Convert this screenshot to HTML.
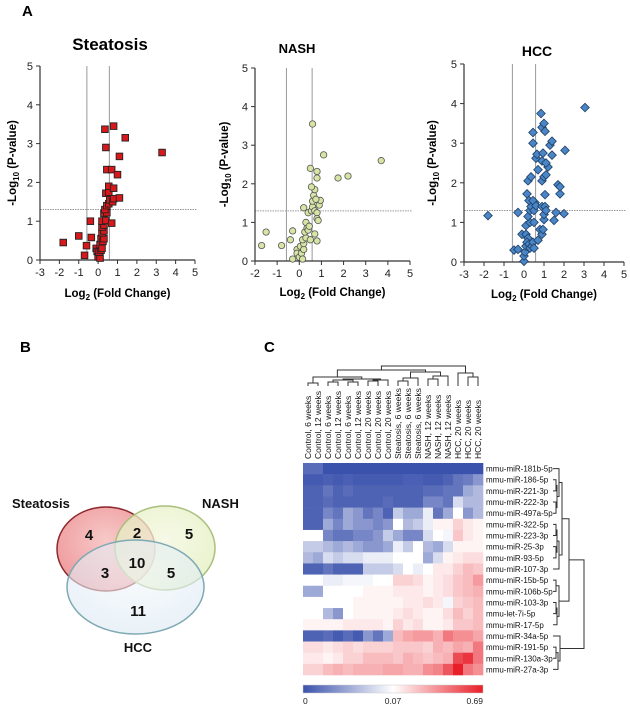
<!DOCTYPE html>
<html><head><meta charset="utf-8"><style>
html,body{margin:0;padding:0;background:#fff;}
svg{display:block;font-family:"Liberation Sans",Arial,sans-serif;}
</style></head><body>
<svg id="fig" width="630" height="711" viewBox="0 0 630 711">
<text x="22" y="16" font-size="15" font-weight="bold">A</text>
<text x="20" y="352" font-size="15" font-weight="bold">B</text>
<text x="264" y="352" font-size="15" font-weight="bold">C</text>
<g id="volcanoes"></g>
<g id="venn">
<defs>
<radialGradient id="gS" cx="50%" cy="40%" r="60%"><stop offset="0" stop-color="#f7c9c9"/><stop offset="1" stop-color="#ef9a9c"/></radialGradient>
<radialGradient id="gN" cx="50%" cy="40%" r="60%"><stop offset="0" stop-color="#f3f7de"/><stop offset="1" stop-color="#e2eebd"/></radialGradient>
<radialGradient id="gH" cx="50%" cy="40%" r="60%"><stop offset="0" stop-color="#f2f7fb"/><stop offset="1" stop-color="#dbe9f3"/></radialGradient>
</defs>
<ellipse cx="106" cy="549" rx="49" ry="42" fill="url(#gS)" stroke="#8e2a2e" stroke-width="1.5"/>
<ellipse cx="165" cy="548" rx="50" ry="42" fill="url(#gN)" fill-opacity="0.75" stroke="#a9bf7d" stroke-width="1.5"/>
<ellipse cx="135.5" cy="587" rx="68.5" ry="47" fill="url(#gH)" fill-opacity="0.6" stroke="#7fa9b3" stroke-width="1.5"/>
<g font-size="15" font-weight="bold" text-anchor="middle" fill="#111">
<text x="89" y="540">4</text>
<text x="137" y="538">2</text>
<text x="189" y="539">5</text>
<text x="105" y="578">3</text>
<text x="137" y="568">10</text>
<text x="171" y="578">5</text>
<text x="138" y="616">11</text>
</g>
<g font-size="13" font-weight="bold" fill="#111">
<text x="12" y="508">Steatosis</text>
<text x="202" y="508">NASH</text>
<text x="138" y="652" text-anchor="middle">HCC</text>
</g>
</g>
<g id="heat"></g>
</svg>
<script>
const NS="http://www.w3.org/2000/svg";
function mk(tag,attrs,parent){const e=document.createElementNS(NS,tag);for(const k in attrs)e.setAttribute(k,attrs[k]);parent.appendChild(e);return e;}

// ---------- Volcano data ----------
const steatosisFC=[-1.8,-1,-0.7,-0.6,-0.35,-0.4,-0.1,-0.05,0,0.1,0.05,0.15,0.1,0.2,0.15,0.25,0.3,0.2,0.3,0.2,0.3,0.2,0.4,0.3,0.45,0.35,0.45,0.55,0.6,0.75,0.8,1.1,0.4,0.55,0.55,0.8,0.7,0.45,0.7,1.0,0.4,0.35,0.8,1.4,1.1,3.3];
const steatosisP=[0.45,0.62,0.12,0.37,0.58,1.0,0.3,0.22,0.08,0.05,0.2,0.25,0.4,0.3,0.55,0.48,0.55,0.7,0.75,0.85,0.9,1.0,1.02,1.2,1.22,1.3,1.4,1.45,1.55,1.5,1.58,1.6,1.72,1.75,1.9,1.85,0.95,2.33,2.33,2.2,2.9,3.37,3.45,3.15,2.67,2.77];
const nashFC=[-1.7,-1.5,-0.8,-0.4,-0.3,-0.3,-0.1,-0.1,0,0.05,0.1,0.15,0.2,0.2,0.15,0.3,0.25,0.35,0.4,0.3,0.45,0.5,0.7,0.8,0.2,0.4,0.55,0.6,0.7,0.8,0.8,0.85,0.9,0.95,0.6,0.65,0.7,0.55,0.75,0.8,0.8,0.5,1.1,1.75,2.2,3.7,0.6];
const nashP=[0.4,0.75,0.4,0.55,0.78,0.05,0.3,0.2,0.1,0.38,0.2,0.05,0.3,0.45,0.55,0.6,0.75,0.85,0.8,1.0,0.9,0.55,0.7,0.52,1.38,1.25,1.3,1.4,1.3,1.25,1.1,1.05,1.45,1.57,1.55,1.7,1.85,1.92,1.6,2.15,2.32,2.4,2.75,2.15,2.2,2.6,3.55];
const hccFC=[-1.8,-0.3,-0.5,-0.3,0,0,0.05,0.1,-0.1,0.1,0.2,0.15,0.25,0.3,0.4,0.45,0.5,0.1,0.3,0.5,0.7,0.8,0.9,0.95,1.0,0.2,0.3,0.35,0.5,0.55,0.15,0.25,0.45,0.6,0.9,1.05,1.0,1.1,1.6,1.5,2.0,1.05,1.8,1.7,1.8,0.2,0.35,0.9,1.0,1.1,0.7,1.2,0.9,1.1,0.6,0.65,0.95,1.4,2.05,0.45,1.3,1.4,0.45,0.9,1.05,1.0,0.85,3.05];
const hccP=[1.17,1.25,0.3,0.32,0.02,0.15,0.25,0.4,0.7,0.7,0.6,0.5,0.45,0.35,0.4,0.5,0.35,0.92,1.0,1.0,0.55,0.82,0.7,0.82,1.07,1.15,1.3,1.4,1.3,1.5,1.72,1.55,1.55,1.42,1.4,1.4,1.2,1.3,1.25,1.05,1.22,1.7,1.72,1.95,1.9,2.05,2.15,2.05,2.15,2.2,2.33,2.4,2.55,2.5,2.62,2.72,2.75,2.7,2.82,3.0,2.95,3.05,3.27,3.4,3.3,3.5,3.75,3.9];
const yTicks=[0,1,2,3,4,5];

const panels=[
 {name:"steatosis",title:"Steatosis",tx:110,ty:50,tfs:17,x0:40,x1:195,y0:260,y1:66,xmin:-3,xmax:5,fc:steatosisFC,p:steatosisP,shape:"square",fill:"#d7191c",ytx:16,xtY:297},
 {name:"nash",title:"NASH",tx:297,ty:53,tfs:13,x0:255,x1:410,y0:261,y1:68,xmin:-2,xmax:5,fc:nashFC,p:nashP,shape:"circle",fill:"#d6e4a4",ytx:228,xtY:296},
 {name:"hcc",title:"HCC",tx:537,ty:56,tfs:14,x0:464,x1:624,y0:262,y1:64,xmin:-3,xmax:5,fc:hccFC,p:hccP,shape:"diamond",fill:"#4a86c5",ytx:436,xtY:298}
];
const vg=document.getElementById('volcanoes');
panels.forEach(pn=>{
 const g=mk('g',{},vg);
 
 
 const X=v=>pn.x0+(v-pn.xmin)/(pn.xmax-pn.xmin)*(pn.x1-pn.x0);
 const Y=v=>pn.y0+(v-0)/5*(pn.y1-pn.y0);
 const t=mk('text',{x:pn.tx,y:pn.ty,'font-size':pn.tfs,'font-weight':'bold','text-anchor':'middle'},g);t.textContent=pn.title;
 
 
 // threshold lines
 [-0.58,0.58].forEach(v=>{const l=mk('line',{x1:X(v),x2:X(v),y1:pn.y1,y2:pn.y0,stroke:'#999','stroke-width':1},g);
  
  });
 const hl=mk('line',{x1:pn.x0,x2:pn.x1+2,y1:Y(1.3),y2:Y(1.3),stroke:'#999','stroke-width':1,'stroke-dasharray':'1.5,1'},g);
 
 
 // axes
 mk('line',{x1:pn.x0,x2:pn.x0,y1:pn.y1,y2:pn.y0,stroke:'#333','stroke-width':1.2},g);
 mk('line',{x1:pn.x0,x2:pn.x1,y1:pn.y0,y2:pn.y0,stroke:'#333','stroke-width':1.2},g);
 yTicks.forEach(v=>{mk('line',{x1:pn.x0-4,x2:pn.x0,y1:Y(v),y2:Y(v),stroke:'#333'},g);
  const tt=mk('text',{x:pn.x0-7,y:Y(v)+4,'font-size':11,'text-anchor':'end',fill:'#222'},g);tt.textContent=v;
  
  });
 for(let v=pn.xmin;v<=pn.xmax;v++){mk('line',{x1:X(v),x2:X(v),y1:pn.y0,y2:pn.y0+4,stroke:'#333'},g);
  const tt=mk('text',{x:X(v),y:pn.y0+16,'font-size':11,'text-anchor':'middle',fill:'#222'},g);tt.textContent=v;
  
  }
 const xt=mk('text',{x:(pn.x0+pn.x1)/2,y:pn.xtY,'font-size':11.5,'font-weight':'bold','text-anchor':'middle'},g);
 xt.innerHTML='Log<tspan font-size="8" dy="3">2</tspan><tspan dy="-3"> (Fold Change)</tspan>';
 
 
 const yt=mk('text',{x:0,y:0,'font-size':11.5,'font-weight':'bold','text-anchor':'middle',transform:`translate(${pn.ytx},${(pn.y0+pn.y1)/2}) rotate(-90)`},g);
 yt.innerHTML='-Log<tspan font-size="8" dy="3">10</tspan><tspan dy="-3"> (P-value)</tspan>';
 
 
 pn.fc.forEach((f,i)=>{const cx=X(f),cy=Y(pn.p[i]);let m;
  if(pn.shape==='square')m=mk('rect',{x:cx-3.3,y:cy-3.3,width:6.6,height:6.6,fill:pn.fill,stroke:'#222','stroke-width':0.9},g);
  else if(pn.shape==='circle')m=mk('circle',{cx:cx,cy:cy,r:3.2,fill:pn.fill,stroke:'#555','stroke-width':0.8},g);
  else m=mk('polygon',{points:`${cx},${cy-4.3} ${cx+4.3},${cy} ${cx},${cy+4.3} ${cx-4.3},${cy}`,fill:pn.fill,stroke:'#1d3d66','stroke-width':0.8},g);
  
  });
});

// ---------- Heatmap data ----------
const sampleLabels=["Control, 6 weeks","Control, 12 weeks","Control, 6 weeks","Control, 12 weeks","Control, 6 weeks","Control, 12 weeks","Control, 20 weeks","Control, 20 weeks","Control, 20 weeks","Steatosis, 6 weeks","Steatosis, 6 weeks","Steatosis, 6 weeks","NASH, 12 weeks","NASH, 12 weeks","NASH, 12 weeks","HCC, 20 weeks","HCC, 20 weeks","HCC, 20 weeks"];
const mirLabels=["mmu-miR-181b-5p","mmu-miR-186-5p","mmu-miR-221-3p","mmu-miR-222-3p","mmu-miR-497a-5p","mmu-miR-322-5p","mmu-miR-223-3p","mmu-miR-25-3p","mmu-miR-93-5p","mmu-miR-107-3p","mmu-miR-15b-5p","mmu-miR-106b-5p","mmu-miR-103-3p","mmu-let-7i-5p","mmu-miR-17-5p","mmu-miR-34a-5p","mmu-miR-191-5p","mmu-miR-130a-3p","mmu-miR-27a-3p"];
const r181b=[-0.85,-0.85,-1,-1,-1,-1,-1,-1,-1,-1,-1,-1,-1,-1,-1,-1,-1,-1];
const r186=[-0.95,-0.95,-0.92,-0.95,-0.92,-0.95,-0.95,-0.95,-0.95,-0.95,-0.92,-0.92,-0.95,-0.95,-0.9,-0.8,-0.75,-0.6];
const r221=[-0.9,-0.9,-0.8,-0.9,-0.85,-0.9,-0.9,-0.9,-0.9,-0.9,-0.9,-0.9,-0.85,-0.85,-0.8,-0.8,-0.5,-0.4];
const r222=[-0.9,-0.9,-0.85,-0.9,-0.9,-0.9,-0.9,-0.9,-0.85,-0.9,-0.9,-0.9,-0.7,-0.7,-0.8,-0.2,-0.4,-0.4];
const r497a=[-0.9,-0.9,-0.7,-0.8,-0.5,-0.6,-0.8,-0.7,-0.9,-0.3,-0.5,-0.5,-0.1,-0.8,-0.5,0,-0.6,-0.4];
const r322=[-0.9,-0.9,-0.5,-0.7,-0.5,-0.6,-0.6,-0.7,-0.6,0,-0.4,-0.3,-0.1,0.05,0.05,0.2,0.1,0.05];
const r223=[0,0,-0.7,-0.8,-0.8,-0.7,-0.7,-0.6,-0.3,-0.5,-0.7,-0.7,-0.2,0,-0.05,0.25,0.1,0.05];
const r25=[-0.3,-0.3,-0.4,-0.5,-0.4,-0.5,-0.6,-0.6,-0.5,-0.1,-0.3,0,-0.4,-0.5,-0.2,0.05,0.05,0.05];
const r93=[-0.4,-0.5,-0.2,-0.3,-0.2,-0.2,-0.1,-0.1,-0.1,0,0,0,-0.5,-0.2,0.05,0.1,0.15,0.15];
const r107=[-0.9,-0.9,-0.8,-0.9,-0.9,-0.9,-0.3,-0.3,-0.3,-0.2,0,-0.1,0,0.1,0.1,0.2,0.3,0.25];
const r15b=[0,0,-0.1,-0.1,-0.05,-0.05,-0.05,0,0,0.2,0.2,0.15,0.05,0.1,0.15,0.25,0.3,0.45];
const r106b=[-0.5,-0.5,0,0,0,0,0.05,0.05,0.05,0.1,0.1,0.1,0.05,0.1,0.15,0.25,0.3,0.35];
const r103=[0,0,0,0,0,0.05,0.05,0.05,0.05,0.05,0.1,0.1,0.15,0.1,-0.05,0.2,0.25,0.3];
const rlet7i=[0,0,-0.4,-0.6,0,0.05,0.05,0.05,0.05,0.1,0.15,0.1,0.05,0.05,0.15,0.3,0.2,0.3];
const r17=[0.05,0.05,0.05,0.05,0.1,0.1,0.1,0.1,0.05,0.2,0.1,0.15,0.05,0.05,0.1,0.25,0.25,0.3];
const r34a=[-0.9,-0.9,-0.85,-0.95,-0.85,-0.95,-0.6,-0.8,-0.5,0.3,0.4,0.45,0.45,0.35,0.6,0.5,0.5,0.4];
const r191=[0.15,0.15,0.1,0.15,0.2,0.15,0.2,0.2,0.2,0.25,0.25,0.25,0.2,0.35,0.3,0.4,0.35,0.6];
const r130a=[0.1,0.1,0.05,0.1,0.2,0.2,0.3,0.3,0.3,0.25,0.35,0.3,0.25,0.3,0.35,0.8,0.9,0.6];
const r27a=[0.2,0.2,0.3,0.35,0.3,0.35,0.35,0.35,0.4,0.4,0.35,0.35,0.5,0.55,0.75,1,0.6,0.5];
const heatRows=[r181b,r186,r221,r222,r497a,r322,r223,r25,r93,r107,r15b,r106b,r103,rlet7i,r17,r34a,r191,r130a,r27a];
const scaleLabels=["0","0.07","0.69"];

const hg=document.getElementById('heat');
const HX0=303,HX1=483,HY0=463,HY1=675;
const cw=(HX1-HX0)/sampleLabels.length, rh=(HY1-HY0)/mirLabels.length;
function col(v){const B=[59,82,173],W=[255,255,255],R=[232,30,40];const t=Math.min(1,Math.abs(v));const c=v<0?B:R;
 return `rgb(${Math.round(W[0]+(c[0]-W[0])*t)},${Math.round(W[1]+(c[1]-W[1])*t)},${Math.round(W[2]+(c[2]-W[2])*t)})`;}
heatRows.forEach((row,r)=>row.forEach((v,c)=>{const e=mk('rect',{x:HX0+c*cw,y:HY0+r*rh,width:cw+0.3,height:rh+0.3,fill:col(v)},hg);
 
 }));
sampleLabels.forEach((s,c)=>{const x=HX0+c*cw+cw/2+3;const t=mk('text',{x:0,y:0,'font-size':8.5,transform:`translate(${x},459) rotate(-90)`,fill:'#111'},hg);t.textContent=s;
 
 });
mirLabels.forEach((s,r)=>{const t=mk('text',{x:486,y:HY0+r*rh+rh/2+3,'font-size':8,fill:'#111'},hg);t.textContent=s;
 
 });
// column dendrogram
const dg=mk('g',{stroke:'#333','stroke-width':1,fill:'none'},hg);


const cx=i=>HX0+i*cw+cw/2, leafY=386;
function link(a,ha,b,hb,h){mk('path',{d:`M${a},${ha}V${h}H${b}V${hb}`},dg);}
link(cx(0),leafY,cx(1),leafY,383); // node A at (mid01,383)
link(cx(2),leafY,cx(3),leafY,382);
link(cx(4),leafY,cx(5),leafY,382);
link((cx(2)+cx(3))/2,382,(cx(4)+cx(5))/2,382,380);
link(cx(6),leafY,cx(7),leafY,381);
link((cx(6)+cx(7))/2,381,cx(8),leafY,380);
link((cx(2)+cx(5))/2,380,(cx(6)+cx(7)+2*cx(8))/4,380,379);
const ctlMid=((cx(2)+cx(5))/2+(cx(6)+cx(7)+2*cx(8))/4)/2;
link((cx(0)+cx(1))/2,383,ctlMid,379,377);
link(cx(9),leafY,cx(10),leafY,381);
link((cx(9)+cx(10))/2,381,cx(11),leafY,378);
link(cx(12),leafY,cx(13),leafY,379);
link((cx(12)+cx(13))/2,379,cx(14),leafY,376);
const stM=((cx(9)+cx(10))/2+cx(11))/2, naM=((cx(12)+cx(13))/2+cx(14))/2;
link(stM,378,naM,376,372);
const ctlAll=((cx(0)+cx(1))/2+ctlMid)/2, snM=(stM+naM)/2;
link(ctlAll,377,snM,372,370);
link(cx(16),leafY,cx(17),leafY,377);
link(cx(15),leafY,(cx(16)+cx(17))/2,377,373);
const hM=(cx(15)+(cx(16)+cx(17))/2)/2;
link((ctlAll+snM)/2,370,hM,373,366);
// row dendrogram
const rg=mk('g',{stroke:'#333','stroke-width':1,fill:'none'},hg);


const ry=i=>HY0+i*rh+rh/2, leafX=553;
function rlink(a,xa,b,xb,x){mk('path',{d:`M${xa},${a}H${x}V${b}H${xb}`},rg);}
rlink(ry(1),leafX,ry(2),leafX,556);
rlink(ry(3),leafX,ry(4),leafX,556);
rlink((ry(1)+ry(2))/2,556,(ry(3)+ry(4))/2,556,557);
const g1=(ry(1)+ry(4))/2;
rlink(ry(0),leafX,g1,557,559);
const g1m=(ry(0)+g1)/2;
rlink(ry(5),leafX,ry(6),leafX,556);
rlink(ry(7),leafX,ry(8),leafX,556);
rlink((ry(5)+ry(6))/2,556,(ry(7)+ry(8))/2,556,557);
const g2=(ry(5)+ry(8))/2;
rlink(g2,557,ry(9),leafX,559);
const g2m=(g2+ry(9))/2;
rlink(g1m,559,g2m,559,562);
const g12=(g1m+g2m)/2;
rlink(ry(10),leafX,ry(11),leafX,556);
rlink(ry(12),leafX,ry(13),leafX,556);
rlink((ry(12)+ry(13))/2,556,ry(14),leafX,557);
rlink((ry(10)+ry(11))/2,556,((ry(12)+ry(13))/2+ry(14))/2,557,559);
const g3=((ry(10)+ry(11))/2+((ry(12)+ry(13))/2+ry(14))/2)/2;
rlink(g12,562,g3,559,569);
const g123=(g12+g3)/2;
rlink(ry(16),leafX,ry(17),leafX,556);
rlink((ry(16)+ry(17))/2,556,ry(18),leafX,558);
rlink(ry(15),leafX,((ry(16)+ry(17))/2+ry(18))/2,558,560);
const g4=(ry(15)+((ry(16)+ry(17))/2+ry(18))/2)/2;
rlink(g123,569,g4,560,584);
// color scale
const defs=mk('defs',{},hg);
const lg=mk('linearGradient',{id:'cs',x1:0,x2:1,y1:0,y2:0},defs);
mk('stop',{offset:0,'stop-color':'rgb(59,82,173)'},lg);
mk('stop',{offset:0.5,'stop-color':'#fff'},lg);
mk('stop',{offset:1,'stop-color':'rgb(232,30,40)'},lg);
const cb=mk('rect',{x:HX0,y:685,width:HX1-HX0,height:8,fill:'url(#cs)',stroke:'#ccc','stroke-width':0.5},hg);


[[HX0,'start'],[(HX0+HX1)/2,'middle'],[HX1,'end']].forEach((p,i)=>{const t=mk('text',{x:p[0],y:704,'font-size':8.5,'text-anchor':p[1],fill:'#222'},hg);t.textContent=scaleLabels[i];
 
 });
</script>
</body></html>
